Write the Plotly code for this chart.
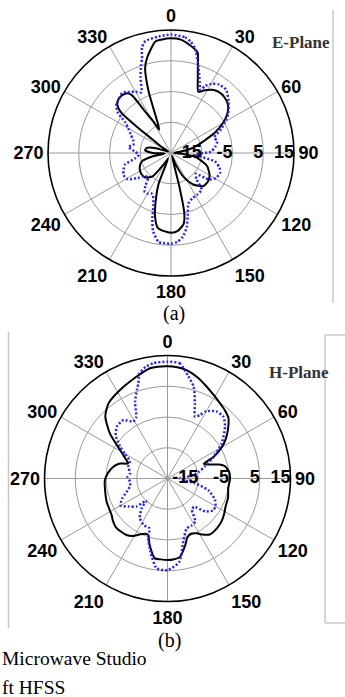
import plotly.graph_objects as go

# ---------------- data (dB vs angle in degrees) ----------------
# E-plane, solid black curve
e_solid_theta = [0, 5, 10, 13, 15, 17.5, 20, 24, 28, 33, 38, 44, 50, 55, 60, 65, 73, 80, 88,
                 95, 100, 110, 120, 128, 136, 145, 152, 158, 162, 166, 167.5, 170, 175, 180,
                 185, 190, 194, 198, 202, 207, 212, 218, 225, 232, 239, 247, 254, 260, 265,
                 270, 276, 282, 288, 296, 303, 306, 307.5, 309, 312, 316, 320, 324, 326, 328,
                 331, 333, 335.5, 338.5, 340, 343, 346, 352, 355, 360]
e_solid_r = [12.3, 12.0, 10.6, 9.6, 8.7, 4.0, 0.5, -3.2, -1.9, -0.5, 0.2, 0.1, -0.8, -2.6, -5.5,
             -9.2, -15.5, -19.5, -24, -21, -16.5, -12.5, -10.5, -9.8, -10.0, -12.5, -16, -21,
             -24, -14, -5, -1.5, 0.4, 0.9, 0.5, -0.3, -3.6, -9, -14.3, -23, -21, -15.5, -13.6,
             -13.2, -13.3, -14, -15.1, -19, -23, -19, -16.5, -17, -20, -24, -21, -18, -11,
             -4.3, -1.5, -0.5, -0.4, -1.0, -2.5, -9, -13.5, -16.5, -15, -9.4, -3.7, 3.8, 7,
             11.6, 12.0, 12.3]

# E-plane, dotted blue curve
e_dot_theta = [0, 7, 10, 13, 18, 22, 25, 27, 31, 35, 41, 48, 56, 64, 70, 76, 82, 88, 93, 97,
               101, 107, 112, 119, 125, 130, 136, 140, 148, 155, 161, 165, 168, 172, 176, 180,
               185, 188, 193, 196, 198.5, 203, 206, 210, 214, 218, 222, 229, 233, 239, 245,
               251, 256, 261, 267, 273, 278, 283, 289, 295, 300, 304, 307, 311, 318, 321, 326,
               330, 334, 338, 341, 343, 344.5, 347, 354, 360]
e_dot_r = [13.5, 12.9, 11.8, 9.9, 4.0, 0.0, -2.4, -0.5, 1.3, 2.2, 2.3, 0.2, -2.6, -6.7, -10,
           -9.5, -10.5, -12, -17, -15, -10.4, -8.5, -7.8, -8.3, -10, -14.5, -13, -9.5, -9,
           -8.7, -7.6, -4, -0.4, 2.5, 4.0, 4.5, 4.4, 4.2, 1, -3, -7, -10, -10.4, -9.8, -9.7,
           -11.5, -13.8, -13.8, -11.5, -8.5, -8.0, -8.7, -9.6, -13, -14.5, -13, -11, -12.5,
           -12, -10.5, -9, -7, -3.5, -1.4, -0.3, 0.2, -1, -2, -3, 1.5, 5, 7.2, 10.4, 12.3,
           13.1, 13.5]

# H-plane, solid black curve
h_solid_theta = [0, 5, 10, 17, 23, 30, 35, 40, 45, 51, 56, 60, 65, 68, 71, 75, 78, 84, 91, 99,
                 107, 116, 121, 128, 135, 143, 148, 152, 158, 162, 165, 171, 176, 180, 185,
                 189, 195, 199, 202, 206, 211, 216, 226, 232, 237, 249, 261, 268, 275, 282,
                 287, 291, 295, 301, 308, 315, 322, 332, 343, 351, 355, 360]
h_solid_r = [11.5, 11.3, 10.8, 9.2, 7.5, 5.8, 4.8, 4.0, 3.0, 0.3, -2.2, -4.6, -8.5, -12.3, -11,
             -7.5, -5.9, -4.8, -4.7, -5.0, -4.4, -4.0, -3.4, -2.6, -2.2, -2.2, -3.5, -4.8,
             -5.5, -4.5, -2.6, 0.8, 1.4, 1.5, 1.4, 1.3, -2.6, -5.6, -5.6, -4.8, -3.2, -2.3,
             -1.9, -2.5, -3.3, -3.8, -4.4, -4.6, -5.5, -6.9, -8.5, -11.3, -10, -7, -1.2, 3.6,
             6.1, 7.7, 9.6, 11.3, 11.5, 11.5]

# H-plane, dotted blue curve
h_dot_theta = [0, 6, 11, 16, 20, 24, 27, 30, 36, 42, 48, 57, 65, 72, 78, 84, 90, 96, 100, 106,
               114, 120, 125, 131, 137, 142, 147, 153, 159, 166, 172, 180, 187, 193, 198, 200,
               207, 215, 221, 224, 228, 234, 240, 246, 250, 258, 265, 272, 278, 287, 295, 300,
               304, 310, 316, 323, 329, 333, 337, 341, 343, 345, 349, 353, 360]
h_dot_r = [13.0, 12.7, 9.3, 6.0, 1.0, -3.0, -1.8, 0.2, 2.0, 2.1, 0.2, -4.0, -8.5, -12.2, -14.5,
           -17.5, -21, -19.5, -15.9, -11.2, -8.1, -7.0, -6.9, -8.7, -12.4, -12.1, -8.4, -7.8,
           -7.6, -3.8, 2.4, 4.8, 4.4, -0.5, -4.6, -7.8, -8.0, -9.3, -12.2, -15, -11.4, -9.5,
           -7.4, -8.8, -10.4, -12.5, -12.8, -12, -12.7, -11.7, -11.5, -9, -6.4, -3, -1.4,
           -1.2, -3.4, -2.6, 2, 5.5, 7.4, 10.3, 12, 12.8, 13.0]

angle_ticks = list(range(0, 360, 30))
angle_labels = [str(a) for a in angle_ticks]
radial_ticks = [-15, -5, 5, 15]
radial_labels = ["-15", "-5", "5", "15"]
radial_range = [-25, 15]
series_names = ["CST Microwave Studio", "Ansoft HFSS"]

W, H = 345, 697
SOLID = "black"
DOT = "#2424ff"
GRID = "#9a9a9a"
tick_font = dict(family="Liberation Sans, Arial", size=18, color="black", weight="bold")

fig = go.Figure()


def add_plane(sub, th_s, r_s, th_d, r_d):
    fig.add_trace(go.Scatterpolar(theta=th_s, r=r_s, mode="lines", subplot=sub,
                                  name=series_names[0], showlegend=False,
                                  line=dict(color=SOLID, width=2, shape="spline", smoothing=0.6)))
    fig.add_trace(go.Scatterpolar(theta=th_d, r=r_d, mode="lines", subplot=sub,
                                  name=series_names[1], showlegend=False,
                                  line=dict(color=DOT, width=2.5, dash="2px,2px",
                                            shape="spline", smoothing=0.6)))
    fig.add_trace(go.Scatterpolar(theta=[90] * len(radial_ticks), r=radial_ticks,
                                  mode="text", text=radial_labels, subplot=sub,
                                  textposition="middle left", showlegend=False,
                                  textfont=tick_font, cliponaxis=False, hoverinfo="skip"))


add_plane("polar", e_solid_theta, e_solid_r, e_dot_theta, e_dot_r)
add_plane("polar2", h_solid_theta, h_solid_r, h_dot_theta, h_dot_r)


def polar_layout(cx, cy, rad):
    return dict(
        domain=dict(x=[(cx - rad) / W, (cx + rad) / W], y=[1 - (cy + rad) / H, 1 - (cy - rad) / H]),
        bgcolor="white",
        angularaxis=dict(rotation=90, direction="clockwise", tickmode="array",
                         tickvals=angle_ticks, ticktext=angle_labels, ticks="",
                         showline=True, linecolor="black", linewidth=1.6,
                         gridcolor=GRID, gridwidth=1, tickfont=tick_font),
        radialaxis=dict(range=radial_range, tickvals=radial_ticks, showticklabels=False,
                        ticks="", showline=False, gridcolor=GRID, gridwidth=1),
    )


serif = "Liberation Serif, Times New Roman, serif"
annotations = [
    dict(text="E-Plane", x=300.5 / W, y=1 - 43 / H, font=dict(family=serif, size=17, color="#333", weight="bold")),
    dict(text="H-Plane", x=298.5 / W, y=1 - 372 / H, font=dict(family=serif, size=17, color="#333", weight="bold")),
    dict(text="(a)", x=174 / W, y=1 - 314 / H, font=dict(family=serif, size=20, color="black")),
    dict(text="(b)", x=169.5 / W, y=1 - 640 / H, font=dict(family=serif, size=20, color="black")),
    dict(text="Microwave Studio", x=0, y=1 - 658 / H, xanchor="left",
         font=dict(family=serif, size=19.5, color="black")),
    dict(text="ft HFSS", x=0, y=1 - 687 / H, xanchor="left",
         font=dict(family=serif, size=19.5, color="black")),
]
for a in annotations:
    a.update(xref="paper", yref="paper", showarrow=False)
    a.setdefault("xanchor", "center")
    a.setdefault("yanchor", "middle")

frame = dict(color="#c8c8c8", width=1.5)
shapes = [
    dict(type="line", x0=333 / W, x1=333 / W, y0=1 - 10 / H, y1=1 - 303 / H, line=frame),
    dict(type="line", x0=8.5 / W, x1=8.5 / W, y0=1 - 332 / H, y1=1 - 628 / H, line=frame),
    dict(type="line", x0=325 / W, x1=325 / W, y0=1 - 335 / H, y1=1 - 623 / H, line=frame),
    dict(type="line", x0=325 / W, x1=1, y0=1 - 335 / H, y1=1 - 335 / H, line=frame),
    dict(type="line", x0=325 / W, x1=1, y0=1 - 623 / H, y1=1 - 623 / H, line=frame),
]
for s in shapes:
    s.update(xref="paper", yref="paper", layer="below")

fig.update_layout(
    width=W, height=H, margin=dict(l=0, r=0, t=0, b=0),
    paper_bgcolor="white", plot_bgcolor="white", showlegend=False,
    polar=polar_layout(171, 153, 123),
    polar2=polar_layout(167.5, 478.5, 123),
    annotations=annotations, shapes=shapes,
)

# remove the browser's default 8px body margin so the figure sits at the page origin
fig.write_html("out.html", config={"displayModeBar": False},
               post_script="document.body.style.margin='0px';"
                           "document.body.style.overflow='hidden';")
